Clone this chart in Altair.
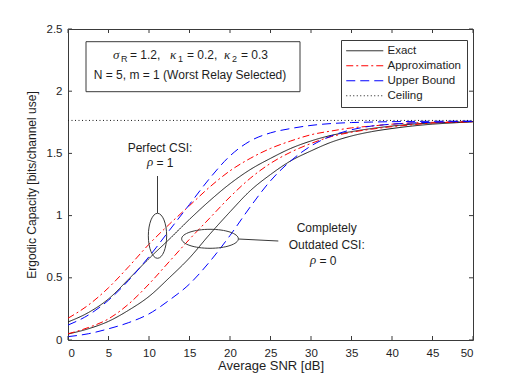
import altair as alt
import pandas as pd

# ---------------- data ----------------
snr = [0, 2.5, 5, 7.5, 10, 12.5, 15, 17.5, 20, 22.5, 25, 27.5, 30, 32.5, 35, 37.5, 40, 42.5, 45, 47.5, 50]

perfect_exact = [0.145, 0.22, 0.33, 0.49, 0.655, 0.81, 0.97, 1.12, 1.256, 1.37, 1.46, 1.54, 1.60, 1.645, 1.675, 1.70, 1.72, 1.735, 1.745, 1.75, 1.755]
perfect_approx = [0.175, 0.28, 0.42, 0.59, 0.77, 0.93, 1.08, 1.23, 1.36, 1.46, 1.54, 1.60, 1.65, 1.68, 1.705, 1.72, 1.735, 1.745, 1.75, 1.753, 1.756]
perfect_upper = [0.12, 0.20, 0.32, 0.48, 0.67, 0.88, 1.09, 1.30, 1.48, 1.60, 1.665, 1.70, 1.725, 1.74, 1.748, 1.752, 1.755, 1.757, 1.758, 1.759, 1.76]
outdated_exact = [0.048, 0.09, 0.15, 0.24, 0.35, 0.50, 0.66, 0.85, 1.03, 1.20, 1.33, 1.44, 1.52, 1.59, 1.64, 1.675, 1.70, 1.72, 1.735, 1.745, 1.755]
outdated_approx = [0.05, 0.10, 0.17, 0.29, 0.45, 0.63, 0.81, 0.98, 1.15, 1.30, 1.42, 1.51, 1.58, 1.635, 1.67, 1.695, 1.715, 1.73, 1.745, 1.75, 1.755]
outdated_upper = [0.027, 0.05, 0.09, 0.14, 0.21, 0.32, 0.45, 0.63, 0.84, 1.07, 1.28, 1.44, 1.56, 1.64, 1.69, 1.72, 1.735, 1.745, 1.75, 1.755, 1.757]
ceiling_snr = [0, 50]
ceiling_value = [1.765, 1.765]

x_ticks = [0, 5, 10, 15, 20, 25, 30, 35, 40, 45, 50]
y_ticks = [0, 0.5, 1, 1.5, 2, 2.5]

type_order = ["Exact", "Approximation", "Upper Bound", "Ceiling"]

series_list = [
    ("perfect_exact", "Exact", snr, perfect_exact),
    ("perfect_approx", "Approximation", snr, perfect_approx),
    ("perfect_upper", "Upper Bound", snr, perfect_upper),
    ("outdated_exact", "Exact", snr, outdated_exact),
    ("outdated_approx", "Approximation", snr, outdated_approx),
    ("outdated_upper", "Upper Bound", snr, outdated_upper),
    ("ceiling", "Ceiling", ceiling_snr, ceiling_value),
]
rows = []
for name, typ, xs, ys in series_list:
    for xv, yv in zip(xs, ys):
        rows.append({"snr": xv, "cap": yv, "type": typ, "series": name})
df = pd.DataFrame(rows)

# ---------------- styles ----------------
FONT = "Liberation Sans"
SERIF = "Liberation Serif"
TXT = "#1e1e1e"
FRAME = "#3a3a3a"
line_colors = ["#1a1a1a", "#ff0000", "#0000ff", "#1a1a1a"]
line_dashes = [[1, 0], [7, 3, 2, 3], [9, 5], [1, 2.5]]

W, H = 405, 311

xscale = alt.Scale(domain=[0, 50], nice=False, zero=False)
yscale = alt.Scale(domain=[0, 2.5], nice=False, zero=False)
xaxis = alt.Axis(values=x_ticks, title="Average SNR [dB]", format="~g")
yaxis = alt.Axis(values=y_ticks, title="Ergodic Capacity [bits/channel use]", format="~g")

legend = alt.Legend(
    title=None, orient="none", legendX=273, legendY=11,
    symbolType="M -3.7 0 L 3.7 0", symbolSize=100, symbolStrokeWidth=1,
    symbolOffset=13, labelOffset=17,
    labelFont=FONT, labelFontSize=11.5, labelColor=TXT,
    strokeColor=FRAME, fillColor="white", padding=5, rowPadding=2,
)

lines = alt.Chart(df).mark_line(strokeWidth=1, interpolate="monotone", clip=True).encode(
    x=alt.X("snr:Q", scale=xscale, axis=xaxis),
    y=alt.Y("cap:Q", scale=yscale, axis=yaxis),
    color=alt.Color("type:N", scale=alt.Scale(domain=type_order, range=line_colors), legend=legend),
    strokeDash=alt.StrokeDash("type:N", scale=alt.Scale(domain=type_order, range=line_dashes), legend=legend),
    detail="series:N",
)

xt = pd.DataFrame({"snr": x_ticks})
yt = pd.DataFrame({"cap": y_ticks})
tick_bottom = alt.Chart(xt).mark_rule(color=FRAME, strokeWidth=1, y2Offset=-4).encode(
    x=alt.X("snr:Q", scale=xscale, axis=xaxis), y=alt.datum(0, scale=yscale, axis=yaxis), y2=alt.datum(0))
tick_top = alt.Chart(xt).mark_rule(color=FRAME, strokeWidth=1, y2Offset=4).encode(
    x=alt.X("snr:Q", scale=xscale, axis=xaxis), y=alt.datum(2.5, scale=yscale, axis=yaxis), y2=alt.datum(2.5))
tick_left = alt.Chart(yt).mark_rule(color=FRAME, strokeWidth=1, x2Offset=4).encode(
    y=alt.Y("cap:Q", scale=yscale, axis=yaxis), x=alt.datum(0, scale=xscale, axis=xaxis), x2=alt.datum(0))
tick_right = alt.Chart(yt).mark_rule(color=FRAME, strokeWidth=1, x2Offset=-4).encode(
    y=alt.Y("cap:Q", scale=yscale, axis=yaxis), x=alt.datum(50, scale=xscale, axis=xaxis), x2=alt.datum(50))

one = pd.DataFrame({"a": [0]})


def txt(text, x, y, size=12, align="center", font=FONT, style="normal"):
    return alt.Chart(one).mark_text(
        text=text, fontSize=size, align=align, baseline="middle",
        font=font, fontStyle=style, color=TXT,
    ).encode(x=alt.value(x), y=alt.value(y))


def rule(x1, y1, x2, y2):
    return alt.Chart(one).mark_rule(color=FRAME, strokeWidth=1).encode(
        x=alt.value(x1), y=alt.value(y1), x2=alt.value(x2), y2=alt.value(y2))


def ellipse(cx, cy, path, size):
    return alt.Chart(one).mark_point(shape=path, size=size, filled=False, color=FRAME,
                                     strokeWidth=1, opacity=1).encode(
        x=alt.value(cx), y=alt.value(cy))


ell_perfect = ellipse(89.5, 206.8, "M -0.407 0 A 0.407 1 0 1 0 0.407 0 A 0.407 1 0 1 0 -0.407 0 Z", 2025)
ell_outdated = ellipse(142, 209.8, "M -1 0 A 1 0.335 0 1 0 1 0 A 1 0.335 0 1 0 -1 0 Z", 3215)
lead_perfect = rule(89.5, 184, 89.5, 147)
lead_outdated = rule(170.3, 210, 210.3, 212)

annot = [
    txt("Perfect CSI:", 92, 118.7),
    txt("ρ", 79, 133.2, size=13, align="left", font=SERIF, style="italic"),
    txt("= 1", 88.5, 133.7, align="left"),
    txt("Completely", 258.7, 199.3),
    txt("Outdated CSI:", 258.7, 216),
    txt("ρ", 242, 231.2, size=13, align="left", font=SERIF, style="italic"),
    txt("= 0", 251.5, 231.7, align="left"),
]

param_box = alt.Chart(one).mark_rect(fill="white", stroke=FRAME, strokeWidth=1).encode(
    x=alt.value(18), y=alt.value(12.7), x2=alt.value(232), y2=alt.value(62.7))
param_text = [
    txt("σ", 45, 25.5, size=13, align="left", font=SERIF, style="italic"),
    txt("R", 53, 30, size=9, align="left"),
    txt("= 1.2,", 62, 26, align="left"),
    txt("κ", 102, 25.5, size=13, align="left", font=SERIF, style="italic"),
    txt("1", 110, 30, size=9, align="left"),
    txt("= 0.2,", 119, 26, align="left"),
    txt("κ", 156, 25.5, size=13, align="left", font=SERIF, style="italic"),
    txt("2", 164, 30, size=9, align="left"),
    txt("= 0.3", 173, 26, align="left"),
    txt("N = 5, m = 1 (Worst Relay Selected)", 122, 46),
]

chart = alt.layer(
    lines, tick_bottom, tick_top, tick_left, tick_right,
    ell_perfect, ell_outdated, lead_perfect, lead_outdated,
    *annot, param_box, *param_text,
).properties(
    width=W, height=H,
    autosize=alt.AutoSizeParams(type="none"),
    padding={"left": 60, "top": 21, "right": 48, "bottom": 34},
).configure_view(
    stroke=FRAME, strokeWidth=1
).configure_axis(
    domain=False, ticks=False, grid=False,
    labelFont=FONT, labelFontSize=11.5, labelColor=TXT,
    titleFont=FONT, titleFontWeight="normal", titleColor=TXT,
).configure_axisX(
    labelPadding=7, titleFontSize=13, titlePadding=1,
).configure_axisY(
    labelPadding=6, titleFontSize=12, titlePadding=8,
)

chart.save("out.html", embed_options={"renderer": "svg", "actions": False})
